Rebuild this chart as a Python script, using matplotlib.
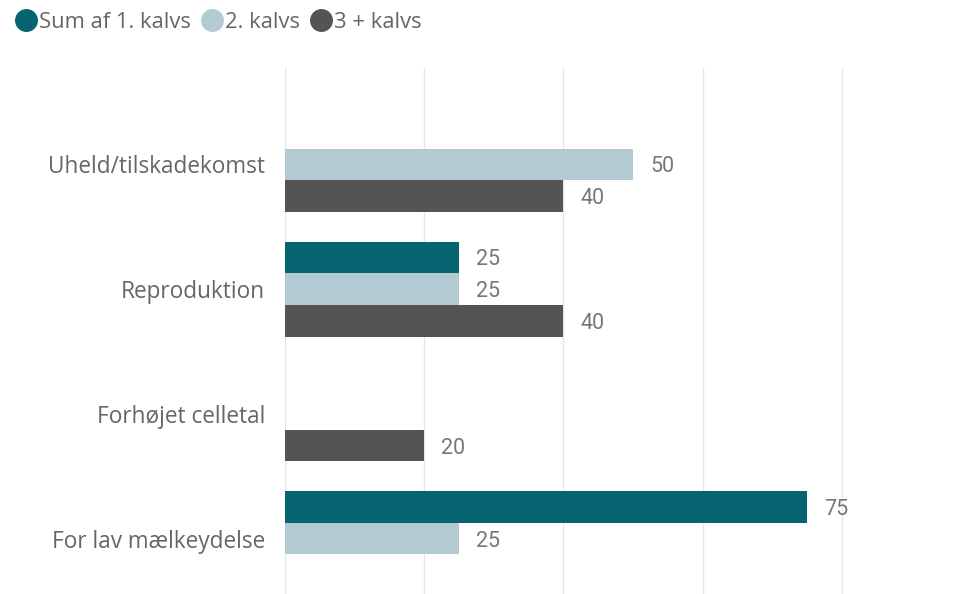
import matplotlib

matplotlib.use("Agg")
import matplotlib.pyplot as plt
import numpy as np
from matplotlib.lines import Line2D

CATEGORIES = ["Uheld/tilskadekomst", "Reproduktion", "Forhøjet celletal", "For lav mælkeydelse"]
SERIES_NAMES = ["Sum af 1. kalvs", "2. kalvs", "3 + kalvs"]
FIRST_CALF = [np.nan, 25, np.nan, 75]
SECOND_CALF = [50, 25, np.nan, 25]
THIRD_CALF = [40, 40, 20, np.nan]
GRID_TICKS = [0, 20, 40, 60, 80]

COLORS = ["#066370", "#B4CAD3", "#545454"]
TEXT_COLOR = "#666666"
VALUE_COLOR = "#777777"

plt.rcParams["font.family"] = ["Open Sans", "DejaVu Sans"]

fig = plt.figure(figsize=(9.73, 5.94), dpi=100)
W, H = 973, 594
x0_px, unit_px = 284.5, 139.4 / 20
xmax = 98
ax = fig.add_axes([x0_px / W, 0, (xmax * unit_px) / W, 1 - 68 / H])

# one category step is ~124.7 px, bar ~31.7 px
step_px = 124.7
y = np.arange(len(CATEGORIES))
bar_h = 31.7 / step_px
series = [FIRST_CALF, SECOND_CALF, THIRD_CALF]
for i, (vals, color) in enumerate(zip(series, COLORS)):
    vals = np.array(vals, dtype=float)
    pos = y + (i - 1) * bar_h
    ax.barh(pos, np.nan_to_num(vals), height=bar_h, color=color, zorder=2, linewidth=0)
    for p, v in zip(pos, vals):
        if np.isnan(v):
            continue
        ax.text(v + 17 / unit_px, p, f"{v:.0f}", va="center_baseline", ha="left",
                fontsize=15.5, color=VALUE_COLOR, family="Roboto")

ax.set_xlim(0, xmax)
ax.set_ylim(3 + 55.5 / step_px, -96.5 / step_px)
ax.set_xticks(GRID_TICKS)
ax.set_xticklabels([])
ax.xaxis.grid(True, color="#E6E6E6", linewidth=1, zorder=0)
ax.set_yticks(y)
ax.set_yticklabels(CATEGORIES, fontsize=16.3, color=TEXT_COLOR)
ax.tick_params(axis="both", length=0, pad=14)
for s in ax.spines.values():
    s.set_visible(False)

handles = [Line2D([], [], marker="o", linestyle="none", markersize=15.5, color=c) for c in COLORS]
fig.legend(handles, SERIES_NAMES, loc="center left", bbox_to_anchor=(15 / W, 1 - 22.5 / H),
           frameon=False, ncol=3, handlelength=1.0, handletextpad=0.1, columnspacing=0.45,
           fontsize=15.8, labelcolor=TEXT_COLOR, borderaxespad=0, borderpad=0)

fig.savefig("out.png", dpi=100)
